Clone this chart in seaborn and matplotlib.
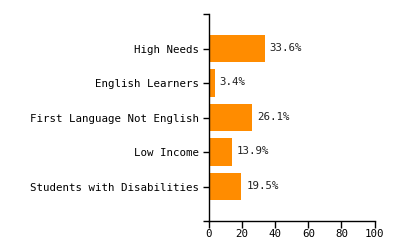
import matplotlib
matplotlib.use("Agg")
import matplotlib.pyplot as plt
import seaborn as sns
import pandas as pd

categories = ["High Needs", "English Learners", "First Language Not English",
              "Low Income", "Students with Disabilities"]
values = [33.6, 3.4, 26.1, 13.9, 19.5]
x_ticks = [0, 20, 40, 60, 80, 100]

sns.set_style("white")
plt.rcParams["font.family"] = ["DejaVu Sans Mono"]

df = pd.DataFrame({"category": categories, "value": values})

fig = plt.figure(figsize=(4, 2.5), dpi=100)
ax = fig.add_axes([209 / 400, 1 - 221 / 250, (374.5 - 209) / 400, (221 - 14) / 250])

sns.barplot(data=df, x="value", y="category", color="#FF8C00", saturation=1,
            width=0.8, ax=ax, orient="h", linewidth=0)

ax.set_xlim(0, 100)
ax.set_ylim(len(categories), -1)
ax.set_xticks(x_ticks)
ax.set_xticklabels([str(t) for t in x_ticks])
ax.set_yticks([-1, len(categories)], minor=True)
ax.set_xlabel("")
ax.set_ylabel("")

for s in ["top", "right"]:
    ax.spines[s].set_visible(False)
for s in ["left", "bottom"]:
    ax.spines[s].set_color("black")
    ax.spines[s].set_linewidth(1)

ax.tick_params(axis="both", which="both", direction="out", colors="black",
               labelsize=7.75, width=1)
ax.tick_params(axis="y", which="both", length=4, pad=3, left=True)
ax.tick_params(axis="x", which="both", length=5, pad=1, bottom=True)

for i, v in enumerate(values):
    ax.text(v + 3, i - 0.02, f"{v}%", va="center", ha="left", fontsize=7.75, color="#222222")

fig.savefig("out.png", dpi=100)
